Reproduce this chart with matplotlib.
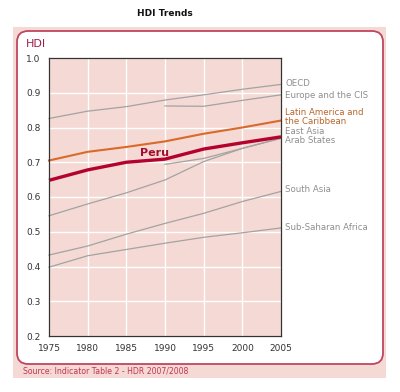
import matplotlib
matplotlib.use("Agg")
import matplotlib.pyplot as plt
from matplotlib.patches import Rectangle, FancyBboxPatch

# HDI values
years = [1975, 1980, 1985, 1990, 1995, 2000, 2005]
years_late = [1990, 1995, 2000, 2005]

oecd = [0.826, 0.847, 0.860, 0.879, 0.894, 0.910, 0.924]
europe_cis = [0.862, 0.861, 0.878, 0.894]
latin_america = [0.705, 0.730, 0.744, 0.760, 0.782, 0.800, 0.820]
peru = [0.648, 0.678, 0.700, 0.709, 0.738, 0.756, 0.773]
east_asia = [0.546, 0.580, 0.612, 0.649, 0.702, 0.740, 0.769]
arab_states = [0.694, 0.711, 0.740, 0.769]
south_asia = [0.433, 0.459, 0.493, 0.524, 0.553, 0.587, 0.616]
ssa = [0.398, 0.431, 0.449, 0.467, 0.484, 0.497, 0.511]

yticks = [0.2, 0.3, 0.4, 0.5, 0.6, 0.7, 0.8, 0.9, 1.0]

W, H = 400, 392
PINK = "#f5d9d4"
GRAY = "#a3a3a3"
LABEL_GRAY = "#8e8e8e"

fig = plt.figure(figsize=(4, 3.92), dpi=100)
fig.patch.set_facecolor("white")

# pink panel and white rounded box
fig.patches.append(Rectangle((13 / W, 1 - 378 / H), 373 / W, 351 / H,
                             transform=fig.transFigure, facecolor=PINK,
                             edgecolor="none", zorder=0))
fig.patches.append(FancyBboxPatch((17 / W, 1 - 364 / H), 366 / W, 333 / H,
                                  boxstyle="round,pad=0,rounding_size=0.028",
                                  transform=fig.transFigure, facecolor="white",
                                  edgecolor="#bf4560", linewidth=1.3, zorder=1))

fig.text(165 / W, 1 - 14 / H, "HDI Trends", ha="center", va="center",
         fontsize=6.5, fontweight="bold", color="#111111")
fig.text(26 / W, 1 - 44 / H, "HDI", ha="left", va="center",
         fontsize=8, color="#9c1f4a")
fig.text(23 / W, 1 - 371 / H, "Source: Indicator Table 2 - HDR 2007/2008",
         ha="left", va="center", fontsize=5.6, color="#c23552")

ax = fig.add_axes([49 / W, 1 - 336 / H, 232 / W, 278 / H])
ax.set_zorder(3)
ax.set_facecolor(PINK)
ax.set_xlim(1975, 2005)
ax.set_ylim(0.2, 1.0)
ax.set_xticks(years)
ax.set_yticks(yticks)
ax.set_yticklabels([f"{v:.1f}" for v in yticks])
ax.grid(color="white", linewidth=1.0)
ax.set_axisbelow(True)
for s in ax.spines.values():
    s.set_color("#333333")
    s.set_linewidth(0.9)
ax.tick_params(length=0, labelsize=6.5, colors="#333333")
ax.tick_params(axis="x", pad=6)
ax.tick_params(axis="y", pad=6)

for series, xs in [(oecd, years), (europe_cis, years_late), (east_asia, years),
                   (arab_states, years_late), (south_asia, years), (ssa, years)]:
    ax.plot(xs, series, color=GRAY, linewidth=0.9, clip_on=False)
ax.plot(years, latin_america, color="#d96a2a", linewidth=1.5, clip_on=False)
ax.plot(years, peru, color="#b3022d", linewidth=2.4, clip_on=False,
        solid_capstyle="butt")

ax.text(140 / W, 1 - 153 / H, "Peru", transform=fig.transFigure, ha="left",
        va="center", fontsize=8, fontweight="bold", color="#a0102e")

labels = [
    ("OECD", 84, LABEL_GRAY),
    ("Europe and the CIS", 95, LABEL_GRAY),
    ("Latin America and\nthe Caribbean", 117, "#b8652a"),
    ("East Asia", 132, LABEL_GRAY),
    ("Arab States", 140, LABEL_GRAY),
    ("South Asia", 190, LABEL_GRAY),
    ("Sub-Saharan Africa", 227, LABEL_GRAY),
]
for txt, py, col in labels:
    fig.text(285 / W, 1 - py / H, txt, ha="left", va="center", fontsize=6.2,
             color=col, linespacing=1.1)

fig.savefig("out.png", dpi=100)
